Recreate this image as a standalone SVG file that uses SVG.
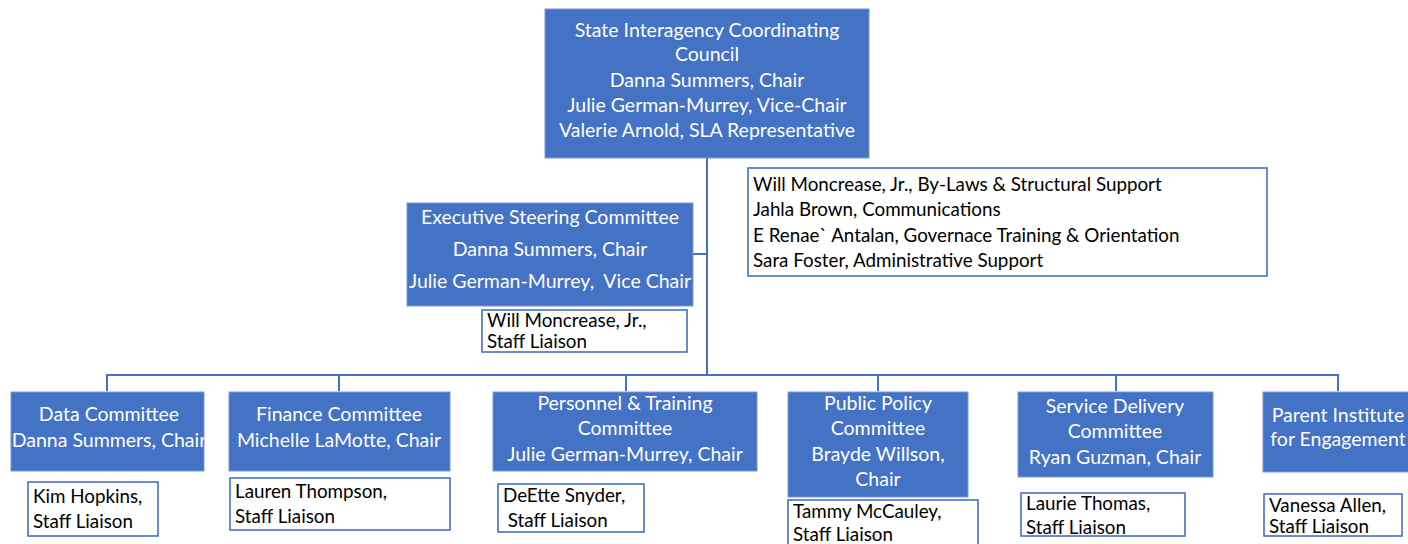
<svg xmlns="http://www.w3.org/2000/svg" width="1408" height="544" viewBox="0 0 1408 544">
<style>
.bx{fill:#4472C4;stroke:#7A98D6;stroke-width:1}
.wb{fill:#FFFFFF;stroke:#4472C4;stroke-width:1.6}
.wt{font-family:Lato,"Liberation Sans",sans-serif;font-size:19.5px;fill:#FFFFFF;text-anchor:middle}
.bt{font-family:Lato,"Liberation Sans",sans-serif;font-size:18.8px;fill:#000000}
.ln{stroke:#4472C4;stroke-width:2;fill:none}
</style>
<defs>
<clipPath id="cData"><rect x="11" y="392" width="193" height="79"/></clipPath>
<clipPath id="cParent"><rect x="1263" y="392" width="145" height="80"/></clipPath>
</defs>
<rect width="1408" height="544" fill="#FFFFFF"/>
<g id="connectors">
<line class="ln" x1="707" y1="158" x2="707" y2="375"/>
<line class="ln" x1="693" y1="254" x2="707" y2="254"/>
<line class="ln" x1="107" y1="375" x2="1338" y2="375"/>
<line class="ln" x1="107" y1="374" x2="107" y2="391"/>
<line class="ln" x1="339" y1="374" x2="339" y2="391"/>
<line class="ln" x1="626" y1="374" x2="626" y2="391"/>
<line class="ln" x1="878" y1="374" x2="878" y2="391"/>
<line class="ln" x1="1116" y1="374" x2="1116" y2="391"/>
<line class="ln" x1="1338" y1="374" x2="1338" y2="391"/>
</g>
<g id="council">
<rect class="bx" x="545" y="9" width="324" height="149"/>
<text class="wt" x="707" y="37">State Interagency Coordinating</text>
<text class="wt" x="707" y="61">Council</text>
<text class="wt" x="707" y="87">Danna Summers, Chair</text>
<text class="wt" x="707" y="112">Julie German-Murrey, Vice-Chair</text>
<text class="wt" x="707" y="137">Valerie Arnold, SLA Representative</text>
</g>
<g id="support">
<rect class="wb" x="748" y="168" width="519" height="108"/>
<text class="bt" x="753" y="191">Will Moncrease, Jr., By-Laws &amp; Structural Support</text>
<text class="bt" x="753" y="216">Jahla Brown, Communications</text>
<text class="bt" x="753" y="242">E Renae` Antalan, Governace Training &amp; Orientation</text>
<text class="bt" x="753" y="267">Sara Foster, Administrative Support</text>
</g>
<g id="executive">
<rect class="bx" x="407" y="203" width="286" height="103"/>
<text class="wt" x="550" y="224">Executive Steering Committee</text>
<text class="wt" x="550" y="256">Danna Summers, Chair</text>
<text class="wt" x="550" y="288" xml:space="preserve">Julie German-Murrey,  Vice Chair</text>
</g>
<g id="executive-liaison">
<rect class="wb" x="482" y="310" width="205" height="42"/>
<text class="bt" x="487" y="327">Will Moncrease, Jr.,</text>
<text class="bt" x="487" y="348">Staff Liaison</text>
</g>
<g id="data">
<rect class="bx" x="11" y="392" width="193" height="79"/>
<g clip-path="url(#cData)">
<text class="wt" x="109" y="421">Data Committee</text>
<text class="wt" x="109" y="447">Danna Summers, Chair</text>
</g>
</g>
<g id="data-liaison">
<rect class="wb" x="28" y="482" width="130" height="54"/>
<text class="bt" x="33" y="503">Kim Hopkins,</text>
<text class="bt" x="33" y="528">Staff Liaison</text>
</g>
<g id="finance">
<rect class="bx" x="229" y="392" width="221" height="79"/>
<text class="wt" x="339" y="421">Finance Committee</text>
<text class="wt" x="339" y="447">Michelle LaMotte, Chair</text>
</g>
<g id="finance-liaison">
<rect class="wb" x="230" y="478" width="220" height="52"/>
<text class="bt" x="235" y="498">Lauren Thompson,</text>
<text class="bt" x="235" y="523">Staff Liaison</text>
</g>
<g id="personnel">
<rect class="bx" x="493" y="392" width="264" height="79"/>
<text class="wt" x="625" y="410">Personnel &amp; Training</text>
<text class="wt" x="625" y="435">Committee</text>
<text class="wt" x="625" y="461">Julie German-Murrey, Chair</text>
</g>
<g id="personnel-liaison">
<rect class="wb" x="498" y="484" width="146" height="48"/>
<text class="bt" x="503" y="502">DeEtte Snyder,</text>
<text class="bt" x="503" y="527" xml:space="preserve"> Staff Liaison</text>
</g>
<g id="policy">
<rect class="bx" x="788" y="392" width="180" height="105"/>
<text class="wt" x="878" y="410">Public Policy</text>
<text class="wt" x="878" y="435">Committee</text>
<text class="wt" x="878" y="461">Brayde Willson,</text>
<text class="wt" x="878" y="486">Chair</text>
</g>
<g id="policy-liaison">
<rect class="wb" x="788" y="500" width="190" height="50"/>
<text class="bt" x="793" y="518">Tammy McCauley,</text>
<text class="bt" x="793" y="541">Staff Liaison</text>
</g>
<g id="service">
<rect class="bx" x="1018" y="392" width="195" height="85"/>
<text class="wt" x="1115" y="413">Service Delivery</text>
<text class="wt" x="1115" y="438">Committee</text>
<text class="wt" x="1115" y="464">Ryan Guzman, Chair</text>
</g>
<g id="service-liaison">
<text class="bt" x="1026" y="510">Laurie Thomas,</text>
<text class="bt" x="1026" y="534">Staff Liaison</text>
<rect class="wb" x="1021" y="493" width="164" height="43" style="fill:none"/>
</g>
<g id="parent">
<rect class="bx" x="1263" y="392" width="150" height="80"/>
<g clip-path="url(#cParent)">
<text class="wt" x="1338" y="422">Parent Institute</text>
<text class="wt" x="1338" y="446">for Engagement</text>
</g>
</g>
<g id="parent-liaison">
<rect class="wb" x="1264" y="494" width="138" height="42"/>
<text class="bt" x="1269" y="512">Vanessa Allen,</text>
<text class="bt" x="1269" y="533">Staff Liaison</text>
</g>
</svg>
